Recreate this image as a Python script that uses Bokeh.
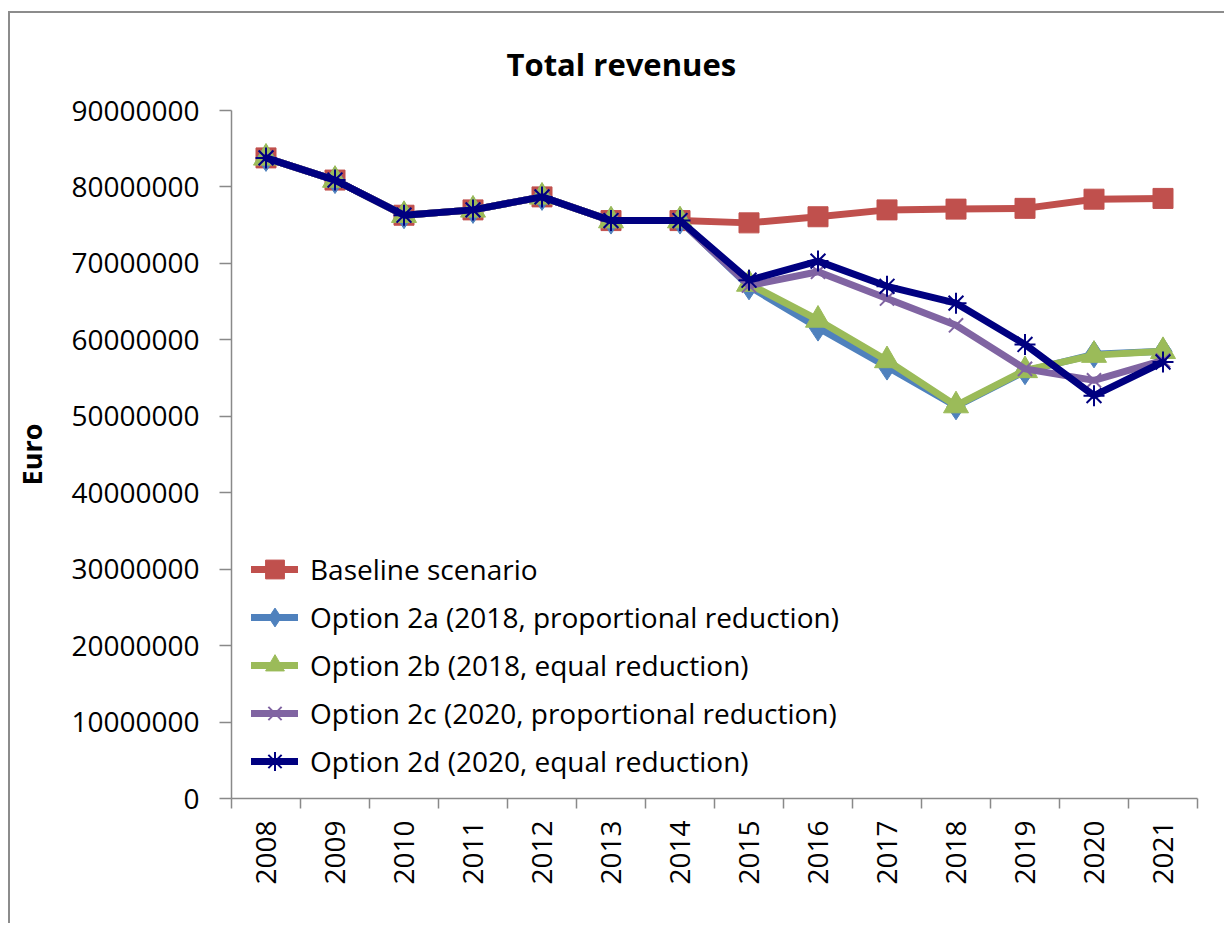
import math
from bokeh.plotting import figure
from bokeh.models import Range1d, FixedTicker, NumeralTickFormatter, Legend, LegendItem
from bokeh.embed import file_html
from bokeh.resources import INLINE

years = list(range(2008, 2022))
y_ticks = [0, 10000000, 20000000, 30000000, 40000000, 50000000,
           60000000, 70000000, 80000000, 90000000]

baseline = [83800000, 80900000, 76300000, 77000000, 78700000, 75600000, 75600000,
            75300000, 76100000, 77000000, 77100000, 77200000, 78400000, 78500000]
option_2a = [83800000, 80900000, 76300000, 77000000, 78700000, 75600000, 75600000,
             67000000, 61600000, 56500000, 51300000, 55900000, 58100000, 58500000]
option_2b = [83800000, 80900000, 76300000, 77000000, 78700000, 75600000, 75600000,
             67300000, 62600000, 57300000, 51400000, 56000000, 58000000, 58500000]
option_2c = [83800000, 80900000, 76300000, 77000000, 78700000, 75600000, 75600000,
             67100000, 68900000, 65400000, 61900000, 56200000, 54700000, 57300000]
option_2d = [83800000, 80900000, 76300000, 77000000, 78700000, 75600000, 75600000,
             67800000, 70300000, 67000000, 64800000, 59400000, 52700000, 57100000]

names = ["Baseline scenario",
         "Option 2a (2018, proportional reduction)",
         "Option 2b (2018, equal reduction)",
         "Option 2c (2020, proportional reduction)",
         "Option 2d (2020, equal reduction)"]

FONT = "Open Sans"
GREY = "#898989"

p = figure(width=1216, height=912, output_backend="svg", toolbar_location=None,
           x_range=Range1d(2007.5, 2021.5), y_range=Range1d(0, 90000000),
           min_border_left=218, min_border_right=29, min_border_top=97,
           min_border_bottom=127,
           styles={"border-top": "2px solid #8c8c8c", "border-left": "2px solid #8c8c8c",
                   "margin-left": "8px", "margin-top": "11px"})
p.outline_line_color = None
p.grid.visible = False
p.background_fill_color = "white"
p.border_fill_color = "white"

p.title.text = "Total revenues"
p.title.align = "left"
p.title.offset = 275
p.title.standoff = 52
p.title.text_font = FONT
p.title.text_font_size = "31px"
p.title.text_font_style = "bold"
p.title.text_color = "black"

series = [
    (baseline, "#C0504D", "square", 20, 1),
    (option_2a, "#4F81BD", "diamond", 27, 1),
    (option_2b, "#9BBB59", "triangle", 25, 1),
    (option_2c, "#8064A2", "x", 20, 2),
    (option_2d, "#000080", "asterisk", 21, 2),
]

items = []
for (vals, color, marker, size, lw), name in zip(series, names):
    ln = p.line(years, vals, line_color=color, line_width=7, line_join="round",
                line_cap="round")
    if marker in ("x", "asterisk"):
        sc = p.scatter(years, vals, marker=marker, size=size, line_color=color,
                       line_width=lw, fill_color=None)
    else:
        sc = p.scatter(years, vals, marker=marker, size=size, fill_color=color,
                       line_color=color, line_width=lw)
    items.append(LegendItem(label=name, renderers=[ln, sc]))

# x axis
xa = p.xaxis[0]
xa.ticker = FixedTicker(ticks=years, minor_ticks=[y - 0.5 for y in years] + [years[-1] + 0.5])
xa.major_tick_out = 0
xa.major_tick_in = 0
xa.minor_tick_out = 10
xa.minor_tick_in = 0
xa.minor_tick_line_color = GREY
xa.minor_tick_line_width = 1.5
xa.axis_line_color = GREY
xa.axis_line_width = 1.5
xa.major_label_orientation = math.pi / 2
xa.major_label_standoff = 12
xa.major_label_text_font = FONT
xa.major_label_text_font_size = "28px"
xa.major_label_text_color = "black"

# y axis
ya = p.yaxis[0]
ya.ticker = FixedTicker(ticks=y_ticks)
ya.formatter = NumeralTickFormatter(format="0")
ya.major_tick_out = 12
ya.major_tick_in = 0
ya.minor_tick_out = 0
ya.minor_tick_in = 0
ya.major_tick_line_color = GREY
ya.major_tick_line_width = 1.5
ya.axis_line_color = GREY
ya.axis_line_width = 1.5
ya.major_label_standoff = 20
ya.major_label_text_font = FONT
ya.major_label_text_font_size = "28px"
ya.major_label_text_color = "black"
ya.axis_label = "Euro"
ya.axis_label_text_font = FONT
ya.axis_label_text_font_size = "27px"
ya.axis_label_text_font_style = "bold"
ya.axis_label_text_color = "black"
ya.axis_label_standoff = 18

legend = Legend(items=items, location=(20, 13), glyph_width=47, glyph_height=48,
                label_height=48, spacing=0, padding=0, margin=0,
                border_line_color=None, background_fill_alpha=0,
                label_text_font=FONT, label_text_font_size="28px",
                label_text_color="black", label_standoff=12)
p.add_layout(legend)

open("out.html", "w").write(file_html(p, INLINE))
